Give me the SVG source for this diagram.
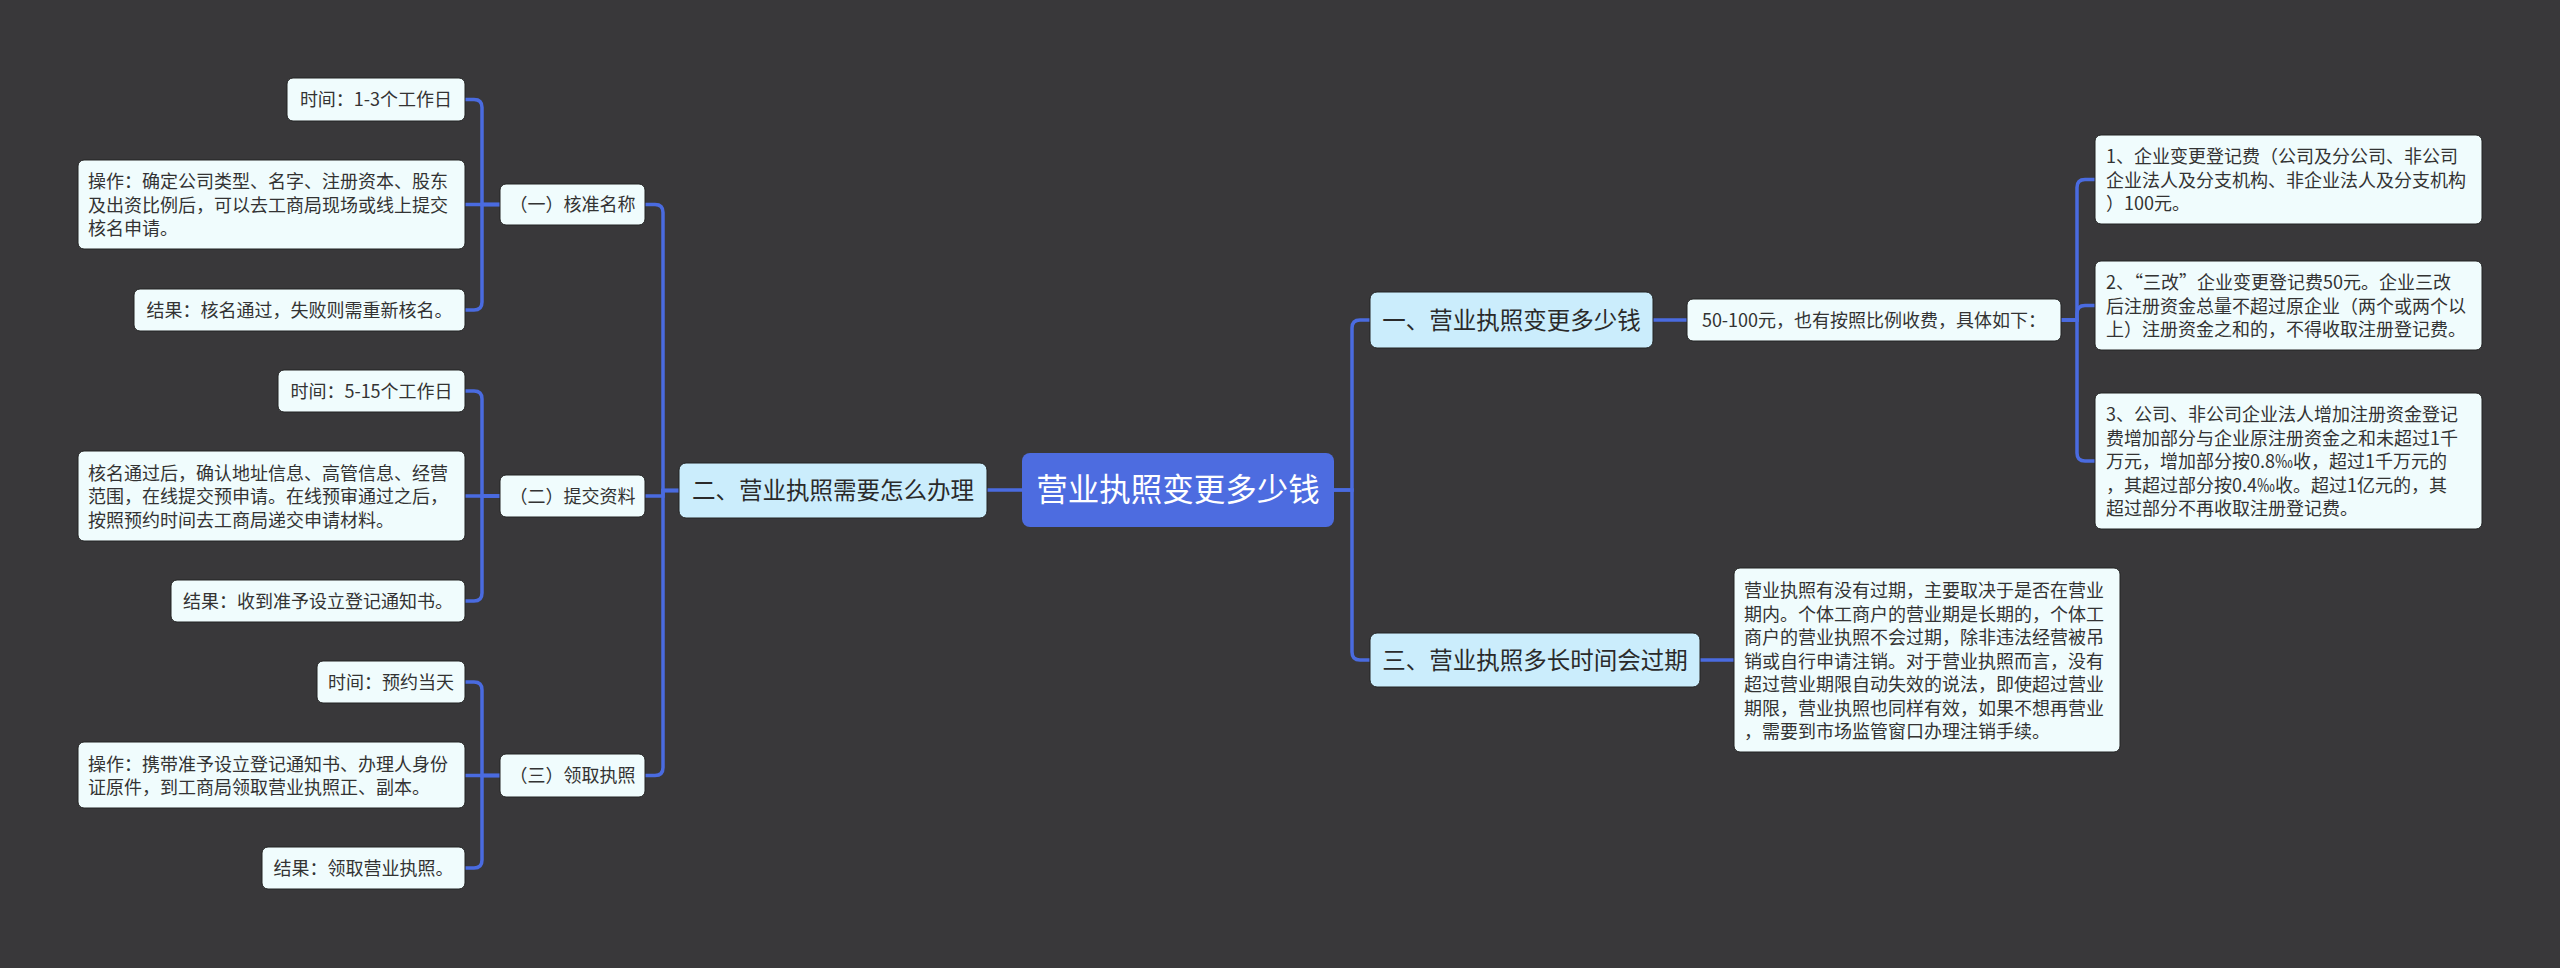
<svg xmlns="http://www.w3.org/2000/svg" width="2560" height="968" viewBox="0 0 2560 968">
<style>
.bg{fill:#39383a}
.leaf rect{fill:#f0fcfd;stroke:#222;stroke-width:1}
.leaf text{font-family:"Noto Sans CJK SC","Noto Sans",sans-serif;font-size:18px;fill:#333}
.l2 rect{fill:#f0fcfd;stroke:#222;stroke-width:1}
.l2 text{font-family:"Noto Sans CJK SC","Noto Sans",sans-serif;font-size:18px;fill:#333;text-anchor:middle}
.l1 rect{fill:#cbedfc;stroke:#222;stroke-width:1}
.l1 text{font-family:"Noto Sans CJK SC","Noto Sans",sans-serif;font-size:23.5px;fill:#2a2a2a;text-anchor:middle}
.root rect{fill:#4d6ce0}
.root text{font-family:"Noto Sans CJK SC","Noto Sans",sans-serif;font-size:31.5px;fill:#ffffff;text-anchor:middle}
.mid{text-anchor:middle}
.big{font-size:19px}
#connectors path{fill:none;stroke:#4a6be0;stroke-width:3.5}
</style>
<rect class="bg" x="0" y="0" width="2560" height="968"/>
<g id="connectors">
<path d="M1022,490 H987"/>
<path d="M1334,490 H1352 V328 Q1352,320 1360,320 H1370"/>
<path d="M1334,490 H1352 V652 Q1352,660 1360,660 H1370"/>
<path d="M1653,320 H1687"/>
<path d="M2061,320 H2077 V187.5 Q2077,179.5 2085,179.5 H2095"/>
<path d="M2061,320 H2077 V313.5 Q2077,305.5 2085,305.5 H2095"/>
<path d="M2061,320 H2077 V453 Q2077,461 2085,461 H2095"/>
<path d="M1700,660 H1734"/>
<path d="M679,490.5 H663 V212.5 Q663,204.5 655,204.5 H645"/>
<path d="M679,490.5 H663 V496 H645"/>
<path d="M679,490.5 H663 V767.5 Q663,775.5 655,775.5 H645"/>
<path d="M500,204.5 H482 V107.5 Q482,99.5 474,99.5 H465"/>
<path d="M500,204.5 H465"/>
<path d="M500,204.5 H482 V302 Q482,310 474,310 H465"/>
<path d="M500,496 H482 V399 Q482,391 474,391 H465"/>
<path d="M500,496 H465"/>
<path d="M500,496 H482 V593 Q482,601 474,601 H465"/>
<path d="M500,775.5 H482 V690 Q482,682 474,682 H465"/>
<path d="M500,775.5 H465"/>
<path d="M500,775.5 H482 V860 Q482,868 474,868 H465"/>
</g>
<g id="root" class="root">
<rect x="1022" y="453" width="312" height="74" rx="8"/>
<text x="1178" y="501">营业执照变更多少钱</text>
</g>
<g id="n2" class="l1">
<rect x="679" y="463" width="308" height="55" rx="7"/>
<text x="833" y="499">二、营业执照需要怎么办理</text>
</g>
<g id="n1" class="l1">
<rect x="1370" y="292" width="283" height="56" rx="7"/>
<text x="1511.5" y="328.5">一、营业执照变更多少钱</text>
</g>
<g id="n3" class="l1">
<rect x="1370" y="633" width="330" height="54" rx="7"/>
<text x="1535" y="668.5">三、营业执照多长时间会过期</text>
</g>
<g id="n2-1" class="l2">
<rect x="500" y="184" width="145" height="41" rx="6"/>
<text x="572.5" y="211">（一）核准名称</text>
</g>
<g id="n2-2" class="l2">
<rect x="500" y="475" width="145" height="42" rx="6"/>
<text x="572.5" y="502.5">（二）提交资料</text>
</g>
<g id="n2-3" class="l2">
<rect x="500" y="754" width="145" height="43" rx="6"/>
<text x="572.5" y="782">（三）领取执照</text>
</g>
<g id="n2-1-1" class="leaf">
<rect x="287" y="78" width="178" height="43" rx="6"/>
<text x="376" y="106" class="mid">时间：1-3个工作日</text>
</g>
<g id="n2-1-2" class="leaf">
<rect x="78" y="160" width="387" height="89" rx="6"/>
<text x="88" y="188">操作：确定公司类型、名字、注册资本、股东</text>
<text x="88" y="211.5">及出资比例后，可以去工商局现场或线上提交</text>
<text x="88" y="235">核名申请。</text>
</g>
<g id="n2-1-3" class="leaf">
<rect x="134" y="289" width="331" height="42" rx="6"/>
<text x="299.5" y="316.5" class="mid">结果：核名通过，失败则需重新核名。</text>
</g>
<g id="n2-2-1" class="leaf">
<rect x="278" y="370" width="187" height="42" rx="6"/>
<text x="371.5" y="397.5" class="mid">时间：5-15个工作日</text>
</g>
<g id="n2-2-2" class="leaf">
<rect x="78" y="451" width="387" height="90" rx="6"/>
<text x="88" y="479.5">核名通过后，确认地址信息、高管信息、经营</text>
<text x="88" y="503">范围，在线提交预申请。在线预审通过之后，</text>
<text x="88" y="526.5">按照预约时间去工商局递交申请材料。</text>
</g>
<g id="n2-2-3" class="leaf">
<rect x="171" y="580" width="294" height="42" rx="6"/>
<text x="318" y="607.5" class="mid">结果：收到准予设立登记通知书。</text>
</g>
<g id="n2-3-1" class="leaf">
<rect x="317" y="661" width="148" height="42" rx="6"/>
<text x="391" y="688.5" class="mid">时间：预约当天</text>
</g>
<g id="n2-3-2" class="leaf">
<rect x="78" y="742" width="387" height="66" rx="6"/>
<text x="88" y="770.5">操作：携带准予设立登记通知书、办理人身份</text>
<text x="88" y="794">证原件，到工商局领取营业执照正、副本。</text>
</g>
<g id="n2-3-3" class="leaf">
<rect x="262" y="847" width="203" height="42" rx="6"/>
<text x="363.5" y="874.5" class="mid">结果：领取营业执照。</text>
</g>
<g id="n1-1" class="leaf">
<rect x="1687" y="299" width="374" height="42" rx="6"/>
<text x="1874" y="326.5" class="mid big">50-100元，也有按照比例收费，具体如下：</text>
</g>
<g id="n1-1-1" class="leaf">
<rect x="2095" y="135" width="387" height="89" rx="6"/>
<text x="2106" y="163">1、企业变更登记费（公司及分公司、非公司</text>
<text x="2106" y="186.5">企业法人及分支机构、非企业法人及分支机构</text>
<text x="2106" y="210">）100元。</text>
</g>
<g id="n1-1-2" class="leaf">
<rect x="2095" y="261" width="387" height="89" rx="6"/>
<text x="2106" y="289">2、“三改”企业变更登记费50元。企业三改</text>
<text x="2106" y="312.5">后注册资金总量不超过原企业（两个或两个以</text>
<text x="2106" y="336">上）注册资金之和的，不得收取注册登记费。</text>
</g>
<g id="n1-1-3" class="leaf">
<rect x="2095" y="393" width="387" height="136" rx="6"/>
<text x="2106" y="421">3、公司、非公司企业法人增加注册资金登记</text>
<text x="2106" y="444.5">费增加部分与企业原注册资金之和未超过1千</text>
<text x="2106" y="468">万元，增加部分按0.8‰收，超过1千万元的</text>
<text x="2106" y="491.5">，其超过部分按0.4‰收。超过1亿元的，其</text>
<text x="2106" y="515">超过部分不再收取注册登记费。</text>
</g>
<g id="n3-1" class="leaf">
<rect x="1734" y="568" width="386" height="184" rx="6"/>
<text x="1744" y="597">营业执照有没有过期，主要取决于是否在营业</text>
<text x="1744" y="620.5">期内。个体工商户的营业期是长期的，个体工</text>
<text x="1744" y="644">商户的营业执照不会过期，除非违法经营被吊</text>
<text x="1744" y="667.5">销或自行申请注销。对于营业执照而言，没有</text>
<text x="1744" y="691">超过营业期限自动失效的说法，即使超过营业</text>
<text x="1744" y="714.5">期限，营业执照也同样有效，如果不想再营业</text>
<text x="1744" y="738">，需要到市场监管窗口办理注销手续。</text>
</g>
</svg>
